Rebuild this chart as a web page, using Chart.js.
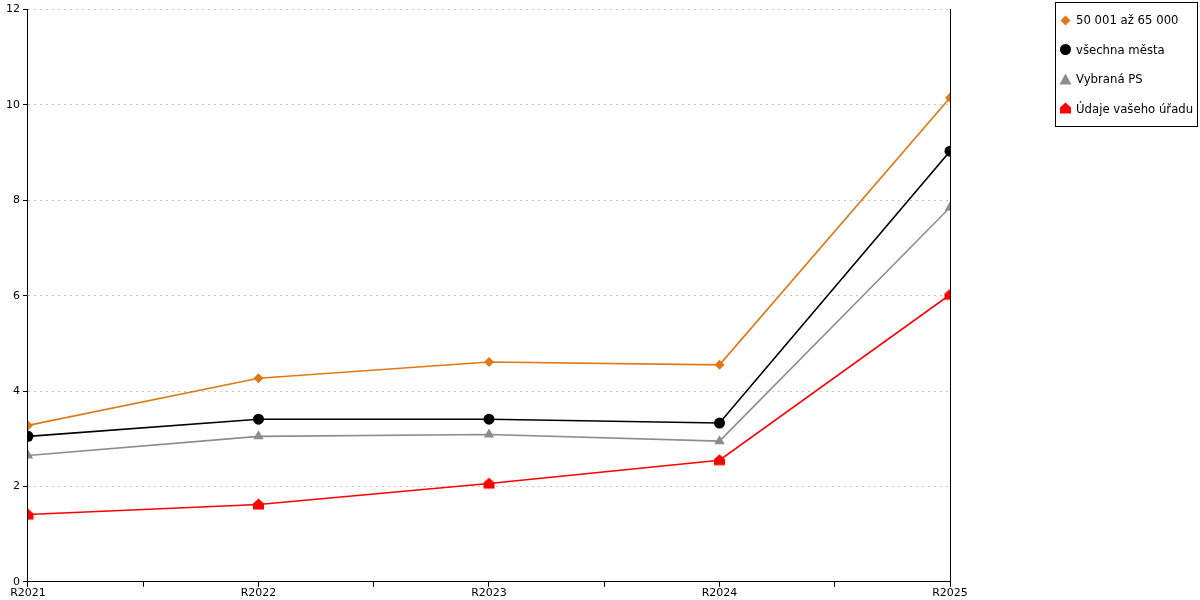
<!DOCTYPE html>
<html>
<head>
<meta charset="utf-8">
<script src="https://cdn.jsdelivr.net/npm/chart.js@4/dist/chart.umd.min.js"></script>
<style>
  body { margin: 0; background: #fff; }
  #wrap { position: relative; width: 1200px; height: 600px; }
  #legend {
    position: absolute; left: 1055px; top: 2px; width: 141px; height: 123px;
    border: 1px solid #000; background: #fff;
    font: 11.7px "DejaVu Sans", sans-serif; color: #000;
  }
  #legend .item { position: absolute; left: 3px; height: 14px; display: flex; align-items: center; white-space: nowrap; }
  #legend canvas { margin-right: 4px; }
</style>
</head>
<body>
<div id="wrap">
  <canvas id="chart" width="1200" height="600"></canvas>
  <div id="legend"></div>
</div>
<script>
const categories = ["R2021", "R2022", "R2023", "R2024", "R2025"];
const seriesNames = ["50 001 až 65 000", "všechna města", "Vybraná PS", "Údaje vašeho úřadu"];
const sizeGroupValues = [3.28, 4.27, 4.61, 4.55, 10.15];
const allCitiesValues = [3.05, 3.41, 3.41, 3.33, 9.03];
const selectedValues = [2.65, 3.05, 3.09, 2.95, 7.85];
const officeValues = [1.41, 1.62, 2.06, 2.55, 6.02];
const yTickValues = [0, 2, 4, 6, 8, 10, 12];

const colors = ["#e07818", "#000000", "#8c8c8c", "#ff0000"];
const shapes = ["diamond", "circle", "triangle", "house"];

// draws one marker shape centred on (cx, cy)
function drawShape(ctx, shape, color, cx, cy) {
  ctx.fillStyle = color;
  ctx.beginPath();
  if (shape === "diamond") {
    ctx.moveTo(cx, cy - 5); ctx.lineTo(cx + 5, cy); ctx.lineTo(cx, cy + 5); ctx.lineTo(cx - 5, cy);
  } else if (shape === "circle") {
    ctx.arc(cx, cy, 5.5, 0, Math.PI * 2);
  } else if (shape === "triangle") {
    ctx.moveTo(cx, cy - 6); ctx.lineTo(cx + 6, cy + 5); ctx.lineTo(cx - 6, cy + 5);
  } else {
    ctx.moveTo(cx, cy - 6); ctx.lineTo(cx + 5.5, cy - 1); ctx.lineTo(cx + 5.5, cy + 5);
    ctx.lineTo(cx - 5.5, cy + 5); ctx.lineTo(cx - 5.5, cy - 1);
  }
  ctx.closePath();
  ctx.fill();
}

function markerCanvas(shape, color) {
  const c = document.createElement("canvas");
  c.width = 13; c.height = 13;
  drawShape(c.getContext("2d"), shape, color, 6.5, 6.5);
  return c;
}

const pointStyles = [
  "rectRot",
  "circle",
  "triangle",
  markerCanvas("house", colors[3]),
];
const pointRadii = [5, 5.5, 6, 6];

const allValues = [sizeGroupValues, allCitiesValues, selectedValues, officeValues];

const datasets = allValues.map((vals, i) => ({
  label: seriesNames[i],
  data: vals.map((v, idx) => ({ x: idx, y: v })),
  borderColor: colors[i],
  backgroundColor: colors[i],
  borderWidth: 1.6,
  pointStyle: pointStyles[i],
  pointRadius: pointRadii[i],
  pointBorderWidth: 0,
  pointHoverRadius: pointRadii[i],
  tension: 0,
})).reverse();

new Chart(document.getElementById("chart"), {
  type: "line",
  data: { datasets },
  options: {
    responsive: false,
    devicePixelRatio: 1,
    animation: false,
    layout: { padding: { left: 3, top: 5, right: 242, bottom: 0 } },
    plugins: { legend: { display: false }, tooltip: { enabled: false } },
    scales: {
      x: {
        type: "linear",
        min: 0,
        max: categories.length - 1,
        afterBuildTicks: axis => {
          const t = [];
          for (let v = 0; v <= categories.length - 1; v += 0.5) t.push({ value: v });
          axis.ticks = t;
        },
        ticks: {
          autoSkip: false,
          maxRotation: 0,
          padding: 0,
          color: "#000",
          font: { family: "DejaVu Sans", size: 11 },
          callback: v => (Number.isInteger(v) ? categories[v] : ""),
        },
        grid: { drawOnChartArea: false, tickLength: 5, color: "#000" },
        border: { color: "#000", width: 1 },
      },
      y: {
        min: 0,
        max: 12,
        afterBuildTicks: axis => { axis.ticks = yTickValues.map(v => ({ value: v })); },
        ticks: { padding: 3, color: "#000", font: { family: "DejaVu Sans", size: 11 } },
        grid: { color: "#c4c4c4", tickColor: "#000", tickLength: 5 },
        border: { color: "#000", width: 1, dash: [2, 4] },
      },
      y2: {
        position: "right",
        min: 0,
        max: 12,
        ticks: { display: false },
        grid: { display: false },
        border: { color: "#000", width: 1 },
      },
    },
  },
});

const legend = document.getElementById("legend");
seriesNames.forEach((name, i) => {
  const item = document.createElement("div");
  item.className = "item";
  item.style.top = (10 + i * 29.5) + "px";
  item.appendChild(markerCanvas(shapes[i], colors[i]));
  const span = document.createElement("span");
  span.textContent = name;
  item.appendChild(span);
  legend.appendChild(item);
});
</script>
</body>
</html>
